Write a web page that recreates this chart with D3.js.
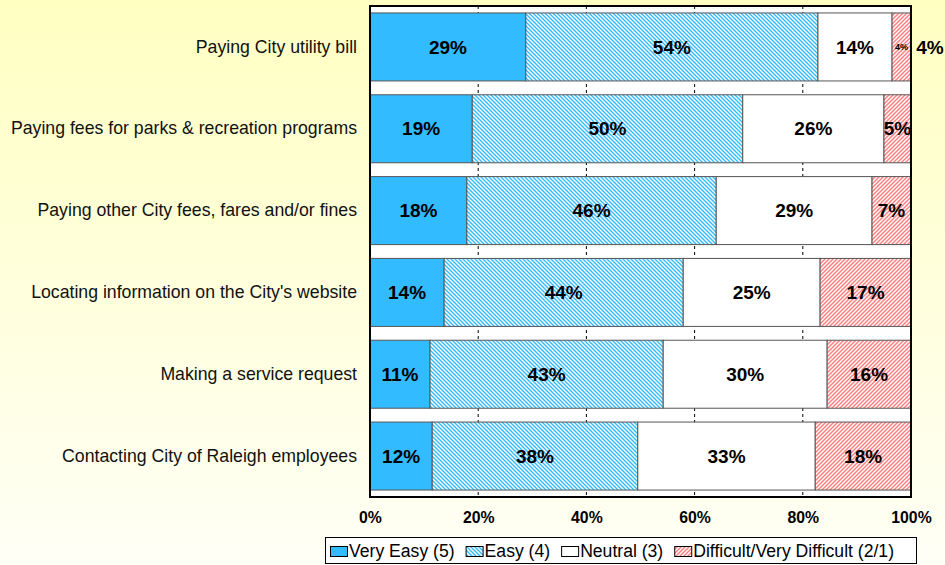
<!DOCTYPE html>
<html>
<head>
<meta charset="utf-8">
<script src="https://cdn.jsdelivr.net/npm/d3@7"></script>
<style>
  html, body { margin: 0; padding: 0; }
  svg { display: block; font-family: "Liberation Sans", Arial, sans-serif; }
</style>
</head>
<body>
<svg id="chart" width="945" height="565"></svg>
<script>
const categories = [
  "Paying City utility bill",
  "Paying fees for parks & recreation programs",
  "Paying other City fees, fares and/or fines",
  "Locating information on the City's website",
  "Making a service request",
  "Contacting City of Raleigh employees"
];
const seriesNames = ["Very Easy (5)", "Easy (4)", "Neutral (3)", "Difficult/Very Difficult (2/1)"];
const veryEasy  = [28.8, 18.9, 17.9, 13.7, 11.1, 11.5];
const easy      = [54.0, 50.0, 46.1, 44.2, 43.1, 38.0];
const neutral   = [13.7, 26.1, 28.8, 25.3, 30.3, 32.8];
const difficult = [3.5, 5.0, 7.2, 16.8, 15.5, 17.7];
const xTicks = [0, 20, 40, 60, 80, 100];

(function () {
const keys = ["veryEasy", "easy", "neutral", "difficult"];
const table = categories.map((c, i) => ({
  cat: c, veryEasy: veryEasy[i], easy: easy[i], neutral: neutral[i], difficult: difficult[i]
}));

const svg = d3.select("#chart");
const W = 945, H = 565;
const pL = 370, pR = 911, pT = 6, pB = 497;

const defs = svg.append("defs");
const bg = defs.append("linearGradient").attr("id", "bg").attr("x1", 0).attr("y1", 0).attr("x2", 0).attr("y2", 1);
bg.append("stop").attr("offset", "0%").attr("stop-color", "#FFFFC2");
bg.append("stop").attr("offset", "100%").attr("stop-color", "#FFFFF6");

function hatch(id, color, down, sw) {
  const p = defs.append("pattern").attr("id", id).attr("patternUnits", "userSpaceOnUse")
    .attr("width", 4).attr("height", 4);
  p.append("rect").attr("width", 4).attr("height", 4).attr("fill", "#fff");
  const d = down ? "M-1,-1 L5,5 M-1,3 L1,5 M3,-1 L5,1" : "M-1,5 L5,-1 M-1,1 L1,-1 M3,5 L5,3";
  p.append("path").attr("d", d).attr("stroke", color).attr("stroke-width", sw);
}
hatch("hEasy", "#33BBFF", true, 1.4);
hatch("hDiff", "#FF8080", false, 1.5);

const fills = { veryEasy: "#33BBFF", easy: "url(#hEasy)", neutral: "#FFFFFF", difficult: "url(#hDiff)" };

svg.append("rect").attr("width", W).attr("height", H).attr("fill", "url(#bg)");

const x = d3.scaleLinear().domain([0, 100]).range([pL, pR]);
const y = d3.scaleBand().domain(categories).range([pT, pB]).paddingInner(0.169).paddingOuter(0.085);

svg.append("rect").attr("x", pL).attr("y", pT).attr("width", pR - pL).attr("height", pB - pT)
  .attr("fill", "#fff");

svg.append("g").selectAll("line").data(xTicks.slice(1, -1)).join("line")
  .attr("x1", d => x(d)).attr("x2", d => x(d)).attr("y1", pT).attr("y2", pB)
  .attr("stroke", "#000").attr("stroke-width", 1).attr("stroke-dasharray", "3,3");

const stacked = d3.stack().keys(keys)(table);

const layers = svg.append("g").selectAll("g").data(stacked).join("g")
  .attr("fill", d => fills[d.key]);
layers.selectAll("rect").data(d => d).join("rect")
  .attr("x", d => x(d[0])).attr("width", d => x(d[1]) - x(d[0]))
  .attr("y", d => y(d.data.cat)).attr("height", y.bandwidth())
  .attr("stroke", "#555").attr("stroke-width", 1);

const lbl = svg.append("g").attr("font-weight", "bold").attr("text-anchor", "middle").attr("fill", "#000");
stacked.forEach(layer => {
  layer.forEach(d => {
    const v = d[1] - d[0];
    const w = x(d[1]) - x(d[0]);
    const cx = (x(d[0]) + x(d[1])) / 2;
    const cy = y(d.data.cat) + y.bandwidth() / 2;
    const t = Math.round(v) + "%";
    if (w < 25) {
      lbl.append("text").attr("x", cx).attr("y", cy).attr("dy", "0.35em")
        .attr("font-size", "9px").text(t);
      lbl.append("text").attr("x", pR + 19).attr("y", cy).attr("dy", "0.35em")
        .attr("font-size", "19px").text(t);
    } else {
      lbl.append("text").attr("x", cx).attr("y", cy).attr("dy", "0.35em")
        .attr("font-size", "19px").text(t);
    }
  });
});

svg.append("rect").attr("x", pL).attr("y", pT).attr("width", pR - pL).attr("height", pB - pT)
  .attr("fill", "none").attr("stroke", "#000").attr("stroke-width", 2);

const xa = svg.append("g").attr("transform", `translate(0,${pB})`)
  .call(d3.axisBottom(x).tickValues(xTicks).tickFormat(d => d + "%").tickSize(0).tickPadding(14.3));
xa.select(".domain").remove();
xa.selectAll("text").attr("font-size", "15.8px").attr("font-weight", "bold").attr("fill", "#000")
  .attr("font-family", "Liberation Sans, Arial, sans-serif");

const ya = svg.append("g").attr("transform", `translate(${pL},0)`)
  .call(d3.axisLeft(y).tickSize(0).tickPadding(13));
ya.select(".domain").remove();
ya.selectAll("text").attr("font-size", "17.7px").attr("fill", "#111")
  .attr("font-family", "Liberation Sans, Arial, sans-serif");

const lg = svg.append("g");
lg.append("rect").attr("x", 325.5).attr("y", 537.5).attr("width", 591).attr("height", 26)
  .attr("fill", "#fff").attr("stroke", "#000").attr("stroke-width", 1);
let lx = 330;
keys.forEach((k, i) => {
  lg.append("rect").attr("x", lx + 0.5).attr("y", 546.5).attr("width", 17).attr("height", 10)
    .attr("fill", fills[k]).attr("stroke", "#000").attr("stroke-width", 1);
  const t = lg.append("text").attr("x", lx + 19).attr("y", 556.5).attr("font-size", "17.6px")
    .attr("fill", "#000").text(seriesNames[i]);
  lx = lx + 19 + t.node().getComputedTextLength() + 11;
});
})();
</script>
</body>
</html>
